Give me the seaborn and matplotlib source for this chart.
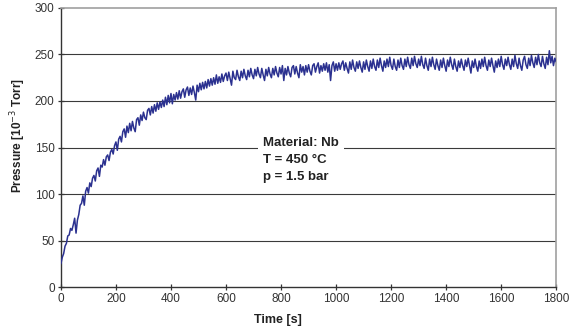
import numpy as np
import pandas as pd
import matplotlib
matplotlib.use('Agg')
import matplotlib.pyplot as plt
import seaborn as sns

# sample grid of the logger: one reading every 5 s
time_s = np.arange(0, 1801, 5)

# pressure readings [1e-3 Torr], one row per minute (12 readings)
pressure = [
    25, 32, 36, 44, 47, 55, 56, 63, 61, 67, 74, 58,
    72, 78, 88, 90, 98, 88, 103, 107, 101, 112, 108, 117,
    120, 114, 125, 128, 119, 131, 129, 137, 131, 140, 142, 136,
    145, 148, 143, 152, 156, 147, 159, 162, 156, 167, 170, 161,
    173, 166, 176, 168, 178, 171, 167, 180, 182, 174, 185, 179,
    188, 182, 180, 190, 192, 185, 194, 187, 196, 189, 198, 191,
    199, 193, 201, 194, 204, 196, 206, 198, 208, 197, 207, 201,
    209, 202, 211, 203, 210, 213, 204, 212, 215, 206, 214, 207,
    216, 209, 201, 217, 210, 219, 212, 220, 213, 221, 214, 223,
    216, 224, 217, 225, 218, 228, 219, 226, 220, 229, 221, 227,
    230, 222, 231, 224, 217, 232, 225, 223, 233, 226, 222, 232,
    225, 234, 227, 223, 233, 226, 235, 228, 224, 234, 227, 236,
    229, 225, 235, 228, 222, 234, 227, 236, 229, 225, 235, 228,
    237, 230, 226, 236, 229, 238, 222, 235, 228, 237, 230, 226,
    236, 238, 229, 237, 230, 225, 239, 231, 237, 228, 238, 231,
    239, 232, 228, 238, 240, 231, 237, 241, 230, 238, 232, 240,
    233, 241, 231, 239, 222, 238, 242, 232, 240, 233, 241, 234,
    240, 243, 233, 241, 235, 230, 242, 234, 244, 236, 232, 242,
    235, 243, 236, 231, 242, 234, 244, 237, 232, 243, 235, 245,
    237, 233, 244, 236, 246, 238, 232, 243, 236, 245, 237, 247,
    238, 234, 245, 237, 233, 244, 236, 246, 238, 234, 245, 237,
    247, 239, 235, 246, 238, 248, 240, 236, 245, 238, 248, 239,
    235, 246, 238, 233, 245, 237, 247, 239, 234, 245, 238, 233,
    244, 236, 246, 238, 232, 244, 237, 247, 239, 234, 245, 237,
    232, 243, 236, 245, 238, 233, 244, 237, 246, 238, 230, 243,
    236, 245, 237, 232, 243, 235, 245, 237, 247, 238, 233, 244,
    237, 246, 238, 231, 243, 236, 245, 237, 248, 239, 234, 245,
    238, 247, 239, 234, 245, 237, 249, 240, 235, 246, 238, 233,
    244, 248, 239, 235, 246, 238, 249, 241, 236, 247, 239, 250,
    241, 237, 248, 240, 235, 247, 239, 254, 241, 248, 238, 246,
    242,
]

x_ticks = list(range(0, 1801, 200))
y_ticks = list(range(0, 301, 50))
note_lines = ['Material: Nb', 'T = 450 °C', 'p = 1.5 bar']

df = pd.DataFrame({'time': time_s, 'pressure': pressure})

sns.set_theme(style='white')
plt.rcParams['font.family'] = ['Liberation Sans', 'DejaVu Sans']

fig = plt.figure(figsize=(5.8, 3.3), dpi=100)
ax = fig.add_axes([0.105, 0.130, 0.854, 0.846])

# horizontal grid lines
for yv in y_ticks[1:-1]:
    ax.axhline(yv, color='#3a3a3a', lw=0.8, zorder=1)

sns.lineplot(data=df, x='time', y='pressure', color='#2b3190', lw=1.1, ax=ax, zorder=3)

ax.set_xlim(0, 1800)
ax.set_ylim(0, 300)
ax.set_xticks(x_ticks)
ax.set_yticks(y_ticks)
ax.tick_params(axis='both', direction='inout', length=5, width=0.9, colors='#333333',
               labelsize=8.5, pad=2, bottom=True, left=True)

for side in ['left', 'bottom']:
    ax.spines[side].set_color('#333333')
    ax.spines[side].set_linewidth(1.0)
for side in ['top', 'right']:
    ax.spines[side].set_color('#a0a0a0')
    ax.spines[side].set_linewidth(1.2)

ax.set_xlabel('Time [s]', fontsize=9, fontweight='bold', color='#222222')
ax.xaxis.set_label_coords(0.438, -0.095)
ax.set_ylabel('Pressure [10$^{-3}$ Torr]', fontsize=8.5, fontweight='bold', color='#222222')
ax.yaxis.set_label_coords(-0.067, 0.545)

# annotation block, first line sits on the 150 grid line and masks it
for i, line in enumerate(note_lines):
    txt = ax.text(735, 152 - i * 18.5, line, fontsize=9.5, fontweight='bold', color='#222222',
                  ha='left', va='baseline', zorder=4)
    if i == 0:
        txt.set_bbox(dict(facecolor='white', edgecolor='none', pad=4))

fig.savefig('out.png', dpi=100)
